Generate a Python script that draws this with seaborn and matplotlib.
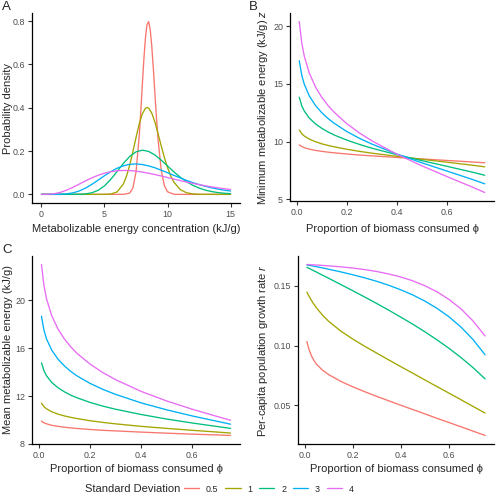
import numpy as np
import pandas as pd
import matplotlib
matplotlib.use("Agg")
import matplotlib.pyplot as plt
import seaborn as sns
from matplotlib.ticker import FormatStrFormatter

# ---------------- data ----------------
sd_levels = ["0.5", "1", "2", "3", "4"]
colors = ["#F8766D", "#A3A500", "#00BF7D", "#00B0F6", "#E76BF3"]

# Panel A: probability density vs metabolizable energy concentration
energy_sd05 = [0, 6.5, 7.0, 7.25, 7.5, 7.75, 7.875, 8.0, 8.125, 8.25, 8.375, 8.5,
               8.625, 8.75, 8.875, 9.0, 9.125, 9.25, 9.5, 9.75, 10.0, 10.5, 11, 15]
density_sd05 = [0, 0.0001, 0.0058, 0.0291, 0.1030, 0.2646, 0.3786, 0.5037, 0.6248,
                0.7236, 0.7846, 0.7978, 0.7624, 0.6857, 0.5813, 0.4657, 0.3528,
                0.2533, 0.1116, 0.0403, 0.0120, 0.0006, 0, 0]
energy_sd1 = [0, 4.5, 5.0, 5.5, 6.0, 6.5, 6.75, 7.0, 7.25, 7.5, 7.75, 8.0, 8.25, 8.375,
              8.5, 8.75, 9.0, 9.25, 9.5, 9.75, 10.0, 10.25, 10.5, 11.0, 11.5, 12.0,
              12.5, 13.0, 14, 15]
density_sd1 = [0, 0, 0.0001, 0.0016, 0.0113, 0.0481, 0.0846, 0.1348, 0.1962, 0.2624,
               0.3241, 0.3718, 0.3977, 0.4012, 0.3985, 0.3755, 0.3338, 0.2808, 0.2242,
               0.1704, 0.1236, 0.0858, 0.0570, 0.0224, 0.0076, 0.0022, 0.0006, 0.0001,
               0, 0]
energy_grid = [0, 0.5, 1, 1.5, 2, 2.5, 3, 3.5, 4, 4.5, 5, 5.5, 6, 6.5, 7, 7.5, 8, 8.5,
               9, 9.5, 10, 10.5, 11, 11.5, 12, 12.5, 13, 13.5, 14, 14.5, 15]
density_sd2 = [0, 0, 0, 0, 0, 0.0001, 0.0005, 0.0022, 0.0073, 0.0189, 0.0394, 0.0693,
               0.1057, 0.1431, 0.1751, 0.1964, 0.2042, 0.1985, 0.1819, 0.1582, 0.1312,
               0.1042, 0.0796, 0.0588, 0.0420, 0.0291, 0.0196, 0.0129, 0.0083, 0.0052,
               0.0032]
density_sd3 = [0, 0, 0.0000, 0.0005, 0.0023, 0.0070, 0.0157, 0.0290, 0.0462, 0.0659,
               0.0862, 0.1050, 0.1207, 0.1321, 0.1387, 0.1405, 0.1378, 0.1316, 0.1227,
               0.1118, 0.1000, 0.0879, 0.0760, 0.0648, 0.0545, 0.0453, 0.0372, 0.0302,
               0.0243, 0.0194, 0.0154]
density_sd4 = [0, 0.0003, 0.0029, 0.0093, 0.0195, 0.0327, 0.0474, 0.0623, 0.0763,
               0.0883, 0.0979, 0.1048, 0.1090, 0.1106, 0.1099, 0.1073, 0.1031, 0.0977,
               0.0915, 0.0848, 0.0778, 0.0707, 0.0638, 0.0572, 0.0509, 0.0450, 0.0396,
               0.0346, 0.0302, 0.0261, 0.0226]

# Panels B and C: vs proportion of biomass consumed
phi = [0.01, 0.02, 0.03, 0.05, 0.075, 0.1, 0.125, 0.15, 0.2, 0.25, 0.3, 0.4, 0.5,
       0.6, 0.7, 0.75]
min_energy_sd05 = [9.71, 9.56, 9.47, 9.34, 9.23, 9.15, 9.08, 9.02, 8.92, 8.83, 8.76,
                   8.62, 8.49, 8.36, 8.23, 8.16]
min_energy_sd1 = [11.00, 10.68, 10.48, 10.21, 9.98, 9.80, 9.66, 9.54, 9.33, 9.15, 8.99,
                  8.72, 8.46, 8.21, 7.95, 7.81]
min_energy_sd2 = [13.84, 13.09, 12.64, 12.03, 11.52, 11.14, 10.83, 10.56, 10.12, 9.75,
                  9.42, 8.86, 8.34, 7.85, 7.35, 7.08]
min_energy_sd3 = [17.00, 15.73, 14.96, 13.95, 13.11, 12.49, 11.99, 11.57, 10.86, 10.28,
                  9.78, 8.91, 8.15, 7.44, 6.72, 6.34]
min_energy_sd4 = [20.39, 18.52, 17.39, 15.92, 14.71, 13.82, 13.11, 12.52, 11.54, 10.74,
                  10.06, 8.89, 7.89, 6.96, 6.06, 5.59]

mean_energy_sd05 = [9.90, 9.76, 9.68, 9.56, 9.47, 9.40, 9.34, 9.29, 9.21, 9.14, 9.09,
                    8.99, 8.90, 8.82, 8.75, 8.71]
mean_energy_sd1 = [11.41, 11.11, 10.93, 10.69, 10.49, 10.34, 10.22, 10.12, 9.94, 9.80,
                   9.68, 9.47, 9.30, 9.14, 8.99, 8.91]
mean_energy_sd2 = [14.78, 14.11, 13.69, 13.14, 12.69, 12.35, 12.07, 11.85, 11.47, 11.16,
                   10.90, 10.46, 10.08, 9.75, 9.45, 9.30]
mean_energy_sd3 = [18.67, 17.48, 16.76, 15.84, 15.07, 14.51, 14.05, 13.67, 13.06, 12.56,
                   12.14, 11.43, 10.85, 10.34, 9.88, 9.65]
mean_energy_sd4 = [22.98, 21.19, 20.11, 18.72, 17.58, 16.76, 16.10, 15.55, 14.67, 13.96,
                   13.37, 12.39, 11.59, 10.90, 10.28, 9.98]

# Panel D: per-capita growth rate
phi_r = [0.01, 0.015, 0.02, 0.03, 0.04, 0.05, 0.075, 0.1, 0.15, 0.2, 0.25, 0.3, 0.35,
         0.4, 0.45, 0.5, 0.55, 0.6, 0.65, 0.7, 0.75]
growth_sd05 = [0.1033, 0.0993, 0.0960, 0.0910, 0.0873, 0.0844, 0.0794, 0.0758, 0.0702,
               0.0656, 0.0615, 0.0576, 0.0539, 0.0502, 0.0466, 0.0430, 0.0393, 0.0358,
               0.0322, 0.0286, 0.0250]
growth_sd1 = [0.1446, 0.1426, 0.1408, 0.1373, 0.1342, 0.1314, 0.1253, 0.1203, 0.1122,
              0.1055, 0.0994, 0.0937, 0.0880, 0.0824, 0.0769, 0.0713, 0.0658, 0.0603,
              0.0548, 0.0492, 0.0437]
growth_sd2 = [0.1653, 0.1648, 0.1643, 0.1633, 0.1623, 0.1613, 0.1587, 0.1562, 0.1510,
              0.1458, 0.1405, 0.1351, 0.1295, 0.1237, 0.1178, 0.1115, 0.1048, 0.0977,
              0.0900, 0.0816, 0.0722]
growth_sd3 = [0.1673, 0.1671, 0.1669, 0.1666, 0.1662, 0.1658, 0.1648, 0.1637, 0.1615,
              0.1591, 0.1565, 0.1536, 0.1503, 0.1465, 0.1422, 0.1371, 0.1311, 0.1240,
              0.1154, 0.1050, 0.0923]
growth_sd4 = [0.1676, 0.1676, 0.1675, 0.1674, 0.1673, 0.1672, 0.1669, 0.1665, 0.1657,
              0.1647, 0.1634, 0.1618, 0.1597, 0.1572, 0.1540, 0.1499, 0.1449, 0.1385,
              0.1306, 0.1205, 0.1080]


def long_df(xs, ys):
    frames = []
    for sd, x, y in zip(sd_levels, xs, ys):
        frames.append(pd.DataFrame({"x": x, "y": y, "sd": sd}))
    return pd.concat(frames, ignore_index=True)


dfA = long_df([energy_sd05, energy_sd1, energy_grid, energy_grid, energy_grid],
              [density_sd05, density_sd1, density_sd2, density_sd3, density_sd4])
dfB = long_df([phi] * 5, [min_energy_sd05, min_energy_sd1, min_energy_sd2,
                          min_energy_sd3, min_energy_sd4])
dfC = long_df([phi] * 5, [mean_energy_sd05, mean_energy_sd1, mean_energy_sd2,
                          mean_energy_sd3, mean_energy_sd4])
dfD = long_df([phi_r] * 5, [growth_sd05, growth_sd1, growth_sd2, growth_sd3,
                            growth_sd4])

# ---------------- style ----------------
sns.set_theme(style="ticks")
plt.rcParams["font.family"] = ["Liberation Sans", "DejaVu Sans"]
plt.rcParams["mathtext.fontset"] = "custom"
plt.rcParams["mathtext.it"] = "Liberation Sans:italic"
plt.rcParams["mathtext.rm"] = "Liberation Sans"

W, H = 497, 500
fig = plt.figure(figsize=(W / 100, H / 100), dpi=100)


def px_axes(left, top, right, bottom):
    return fig.add_axes([left / W, 1 - bottom / H, (right - left) / W, (bottom - top) / H])


boxes = {
    "A": (32, 13, 240, 203),
    "B": (290, 13, 494, 201),
    "C": (32, 256, 240, 444),
    "D": (298, 256, 494, 444),
}
axA = px_axes(*boxes["A"])
axB = px_axes(*boxes["B"])
axC = px_axes(*boxes["C"])
axD = px_axes(*boxes["D"])

lw = 0.95
for ax, df in [(axA, dfA), (axB, dfB), (axC, dfC), (axD, dfD)]:
    sns.lineplot(data=df, x="x", y="y", hue="sd", hue_order=sd_levels,
                 palette=colors, ax=ax, legend=(ax is axA), linewidth=lw,
                 estimator=None, sort=True)

handles, labels = axA.get_legend_handles_labels()
axA.get_legend().remove()


def expand(vals, mult=0.05):
    lo, hi = min(vals), max(vals)
    r = hi - lo
    return lo - mult * r, hi + mult * r


title_fs = 8.0
tick_fs = 6.4
for ax, df in [(axA, dfA), (axB, dfB), (axC, dfC), (axD, dfD)]:
    ax.set_xlim(*expand(df["x"]))
    ax.set_ylim(*expand(df["y"]))
    sns.despine(ax=ax)
    for s in ["left", "bottom"]:
        ax.spines[s].set_linewidth(0.9)
        ax.spines[s].set_color("black")
    ax.tick_params(axis="both", labelsize=tick_fs, labelcolor="#4D4D4D",
                   color="#333333", length=3, width=0.8, pad=2)

axA.set_xticks([0, 5, 10, 15])
axA.set_yticks([0.0, 0.2, 0.4, 0.6, 0.8])
axA.yaxis.set_major_formatter(FormatStrFormatter("%.1f"))
for ax in (axB, axC, axD):
    ax.set_xticks([0.0, 0.2, 0.4, 0.6])
    ax.xaxis.set_major_formatter(FormatStrFormatter("%.1f"))
axB.set_yticks([5, 10, 15, 20])
axC.set_yticks([8, 12, 16, 20])
axD.set_yticks([0.05, 0.10, 0.15])
axD.yaxis.set_major_formatter(FormatStrFormatter("%.2f"))

phi_label = "Proportion of biomass consumed \u03d5"
labels_xy = {
    "A": ("Metabolizable energy concentration (kJ/g)", "Probability density", 229, 8),
    "B": (phi_label, "Minimum metabolizable energy (kJ/g) $z$", 229, 263),
    "C": (phi_label, "Mean metabolizable energy (kJ/g)", 469, 8),
    "D": (phi_label, "Per-capita population growth rate $r$", 469, 263.5),
}
for key, ax in zip("ABCD", (axA, axB, axC, axD)):
    xl, yl, xly, ylx = labels_xy[key]
    left, top, right, bottom = boxes[key]
    ax.set_xlabel(xl, fontsize=title_fs)
    ax.set_ylabel(yl, fontsize=title_fs)
    ax.xaxis.label.set_va("center")
    ax.yaxis.label.set_va("center")
    ax.xaxis.set_label_coords(0.5, (bottom - xly) / (bottom - top))
    ax.yaxis.set_label_coords((ylx - left) / (right - left), 0.5)

# panel tags
fig.text(2 / W, 1 - 7 / H, "A", fontsize=9.5, va="center", ha="left")
fig.text(249 / W, 1 - 7 / H, "B", fontsize=9.5, va="center", ha="left")
fig.text(2 / W, 1 - 250 / H, "C", fontsize=9.5, va="center", ha="left")

# legend at bottom
fig.text(85 / W, 1 - 489 / H, "Standard Deviation", fontsize=title_fs, va="center", ha="left")
fig.legend(handles, sd_levels, loc="center left", bbox_to_anchor=(184 / W, 1 - 489 / H),
           ncol=5, frameon=False, fontsize=tick_fs, handlelength=1.7,
           handletextpad=0.75, columnspacing=0.8, borderpad=0, borderaxespad=0)

fig.savefig("out.png", dpi=100)
